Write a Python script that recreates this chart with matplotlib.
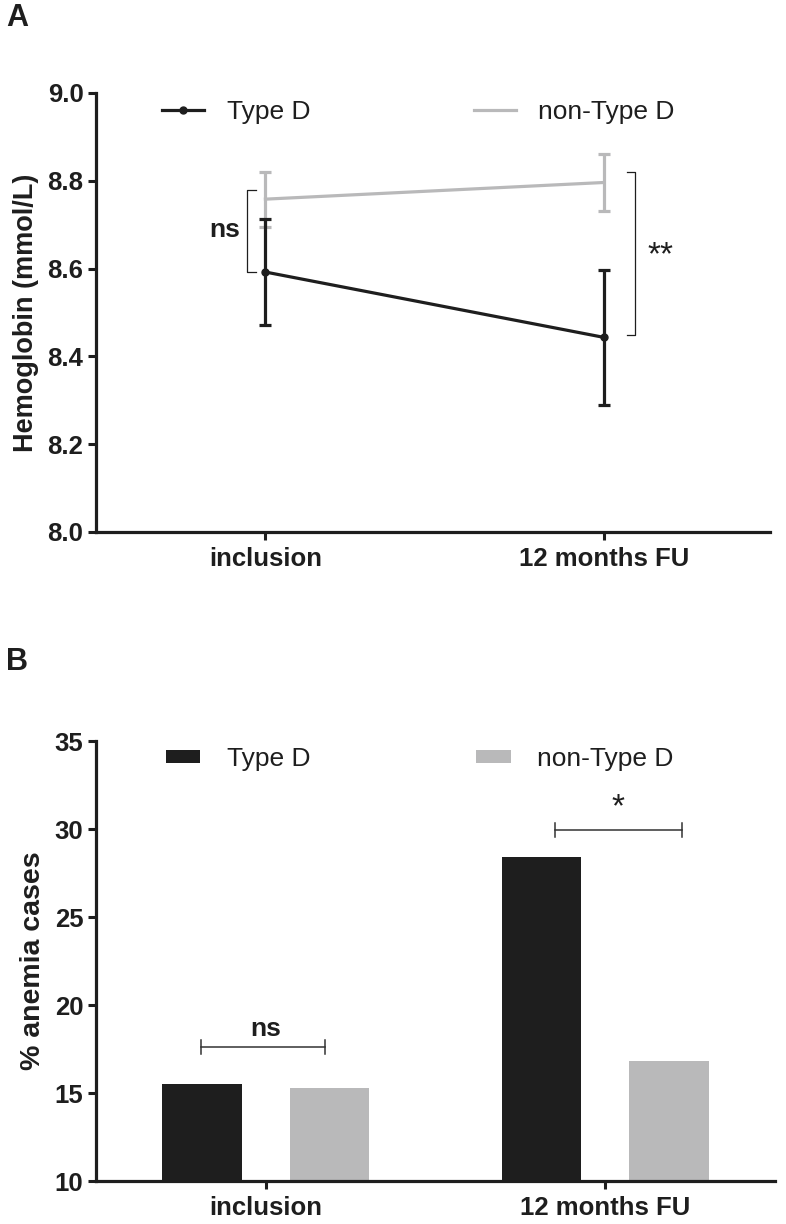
import matplotlib
matplotlib.use('Agg')
import matplotlib.pyplot as plt
from matplotlib.lines import Line2D
import numpy as np

plt.rcParams['font.family'] = ['Liberation Sans', 'DejaVu Sans']

# --- data ---
timepoints = ['inclusion', '12 months FU']
hb_typeD = [8.592, 8.443]
hb_typeD_lo = [8.472, 8.290]
hb_typeD_hi = [8.712, 8.596]
hb_nonD = [8.758, 8.796]
hb_nonD_lo = [8.695, 8.732]
hb_nonD_hi = [8.819, 8.861]

anemia_typeD = [15.5, 28.4]
anemia_nonD = [15.3, 16.8]

BLACK = '#1e1e1e'
GREY = '#b9b9ba'

fig = plt.figure(figsize=(7.86, 12.24), dpi=100)
axA = fig.add_axes([0.1221, 0.5654, 0.858, 0.3587])
axB = fig.add_axes([0.1221, 0.0351, 0.864, 0.3595])

x = np.arange(len(timepoints))


def style_axis(ax):
    for s in ['top', 'right']:
        ax.spines[s].set_visible(False)
    for s in ['left', 'bottom']:
        ax.spines[s].set_linewidth(2.3)
        ax.spines[s].set_color(BLACK)
    ax.tick_params(axis='both', length=6, width=2.2, color=BLACK,
                   labelsize=18.5, pad=3)
    ax.tick_params(axis='x', pad=5)
    for lab in ax.get_xticklabels() + ax.get_yticklabels():
        lab.set_fontweight('bold')
        lab.set_color(BLACK)


# ---- Panel A ----
yerrD = [np.array(hb_typeD) - np.array(hb_typeD_lo), np.array(hb_typeD_hi) - np.array(hb_typeD)]
yerrN = [np.array(hb_nonD) - np.array(hb_nonD_lo), np.array(hb_nonD_hi) - np.array(hb_nonD)]
axA.errorbar(x, hb_nonD, yerr=yerrN, color=GREY, lw=2.3, capsize=4.5, capthick=2.3,
             elinewidth=2.3, zorder=2)
axA.errorbar(x, hb_typeD, yerr=yerrD, color=BLACK, lw=2.3, capsize=4.5, capthick=2.3,
             elinewidth=2.3, marker='o', ms=5, zorder=3)
axA.set_xlim(-0.5, 1.49)
axA.set_ylim(8.0, 9.0)
axA.set_yticks([8.0, 8.2, 8.4, 8.6, 8.8, 9.0])
axA.set_yticklabels(['8.0', '8.2', '8.4', '8.6', '8.8', '9.0'])
axA.set_xticks(x)
axA.set_xticklabels(timepoints)
axA.set_ylabel('Hemoglobin (mmol/L)', fontsize=19.5, fontweight='bold', labelpad=6, color=BLACK)
style_axis(axA)

# significance brackets A
axA.plot([-0.029, -0.053, -0.053, -0.029], [8.779, 8.779, 8.593, 8.593], color=BLACK, lw=0.9)
axA.text(-0.12, 8.688, 'ns', fontsize=19, fontweight='bold', ha='center', va='center', color=BLACK)
axA.plot([1.068, 1.091, 1.091, 1.068], [8.820, 8.820, 8.449, 8.449], color=BLACK, lw=0.9)
axA.text(1.165, 8.63, '**', fontsize=24, ha='center', va='center', color=BLACK)

handlesA = [Line2D([], [], color=BLACK, lw=2.3, marker='o', ms=5),
            Line2D([], [], color=GREY, lw=2.3)]
legA = axA.legend(handlesA, ['Type D', 'non-Type D'], ncol=2, loc='center left',
                  bbox_to_anchor=(0.098, 1 - 19 / 439),
                  frameon=False, fontsize=19, handlelength=1.6, handletextpad=0.85,
                  columnspacing=6.2, borderpad=0, borderaxespad=0)
for t in legA.get_texts():
    t.set_color(BLACK)

# ---- Panel B ----
w = 0.235
off = 0.188
axB.bar(x - off, [v - 10 for v in anemia_typeD], bottom=10, width=w, color=BLACK, label='Type D', zorder=2)
axB.bar(x + off, [v - 10 for v in anemia_nonD], bottom=10, width=w, color=GREY, label='non-Type D', zorder=2)
axB.set_xlim(-0.5, 1.5)
axB.set_ylim(10, 35)
axB.set_yticks([10, 15, 20, 25, 30, 35])
axB.set_xticks(x)
axB.set_xticklabels(timepoints)
axB.set_ylabel('% anemia cases', fontsize=20.5, fontweight='bold', labelpad=6, color=BLACK)
style_axis(axB)

BR = '#333333'
axB.plot([-0.191, 0.174], [17.6, 17.6], color=BR, lw=1.1)
for xx in [-0.191, 0.174]:
    axB.plot([xx, xx], [17.2, 18.0], color=BR, lw=1.1)
axB.text(0.0, 17.95, 'ns', fontsize=19, fontweight='bold', ha='center', va='bottom', color=BLACK)
axB.plot([0.853, 1.226], [29.95, 29.95], color=BR, lw=1.1)
for xx in [0.853, 1.226]:
    axB.plot([xx, xx], [29.55, 30.35], color=BR, lw=1.1)
axB.text(1.038, 30.3, '*', fontsize=24, ha='center', va='bottom', color=BLACK)

legB = axB.legend(ncol=2, loc='center left', bbox_to_anchor=(0.103, 1 - 18 / 440),
                  frameon=False, fontsize=19, handlelength=1.3, handleheight=0.4,
                  handletextpad=1.0, columnspacing=6.3, borderpad=0, borderaxespad=0)
for t in legB.get_texts():
    t.set_color(BLACK)

fig.text(0.008, 1 - 18 / 1224, 'A', fontsize=22, fontweight='bold', va='center', color=BLACK)
fig.text(0.008, 1 - 662 / 1224, 'B', fontsize=22, fontweight='bold', va='center', color=BLACK)

fig.savefig('out.png', dpi=100)
